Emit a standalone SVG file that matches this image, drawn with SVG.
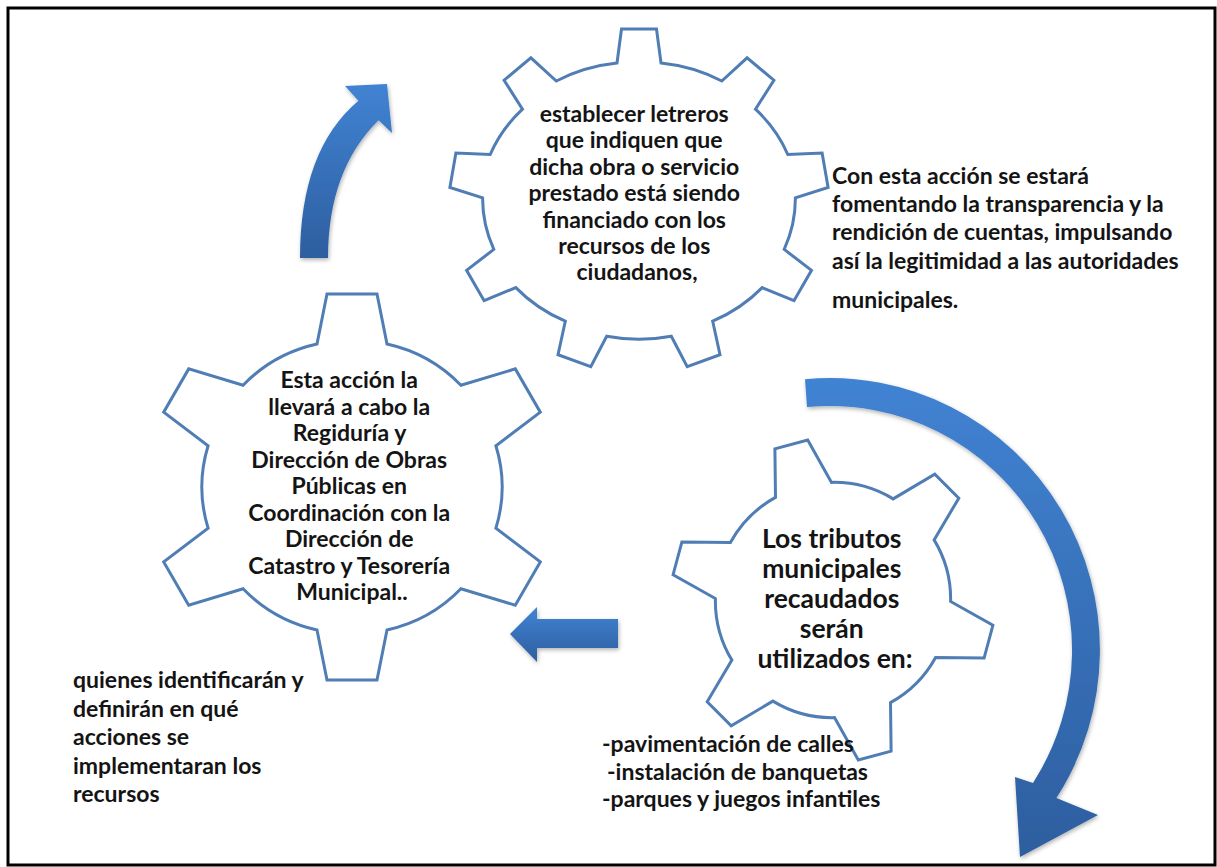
<svg xmlns="http://www.w3.org/2000/svg" width="1217" height="867" viewBox="0 0 1217 867">
<style>
.gear{fill:#fff;stroke:#4f7db4;stroke-width:3;stroke-linejoin:miter}
.t{font-family:Lato,"Open Sans","Liberation Sans",sans-serif;font-weight:bold;fill:#141414;font-size:23px}
.c{text-anchor:middle}
.big{font-size:26.5px}
.arrow{fill:url(#ag);filter:url(#sh)}
</style>
<defs>
<linearGradient id="ag" x1="0" y1="0" x2="0" y2="1">
<stop offset="0" stop-color="#4183d3"/>
<stop offset="1" stop-color="#2d5e9f"/>
</linearGradient>
<filter id="sh" x="-20%" y="-20%" width="140%" height="140%">
<feDropShadow dx="1" dy="2" stdDeviation="2" flood-color="#000" flood-opacity="0.3"/>
</filter>
</defs>
<rect x="8" y="8" width="1207" height="857" fill="#fff" stroke="#000" stroke-width="3"/>

<g id="gear-top">
<path class="gear" d="M617,63 L621.5,29 L656.5,29 L661,63 A155,137 0 0 1 721.8,81 L747.1,57.8 L773.9,80.2 L755.5,109.2 A155,137 0 0 1 787.8,154.5 L822.1,153.1 L828.1,187.5 L795.4,197.9 A155,137 0 0 1 784.2,249.4 L811.5,270.3 L794,300.7 L762.2,287.6 A155,137 0 0 1 712.7,321.2 L720,354.7 L687.2,366.7 L671.3,336.2 A155,137 0 0 1 606.7,336.2 L590.8,366.7 L558,354.7 L565.3,321.2 A155,137 0 0 1 515.8,287.6 L484.1,300.7 L466.6,270.3 L493.8,249.4 A155,137 0 0 1 482.6,197.9 L449.9,187.5 L455.9,153.1 L490.2,154.5 A155,137 0 0 1 522.5,109.2 L504.1,80.2 L530.9,57.8 L556.3,81 A155,137 0 0 1 617,63 Z"/>
<text class="t c" x="637">
<tspan x="637" y="122">establecer letreros</tspan>
<tspan x="637" y="148.4">que indiquen que</tspan>
<tspan x="637" y="174.8">dicha obra o servicio</tspan>
<tspan x="637" y="201.2">prestado está siendo</tspan>
<tspan x="637" y="227.6">financiado con los</tspan>
<tspan x="637" y="254">recursos de los</tspan>
<tspan x="637" y="280.4">ciudadanos,</tspan>
</text>
</g>

<g id="gear-left">
<path class="gear" d="M317,344 L327,294 L377,294 L387,344 A146,143 0 0 1 460.9,385.2 L515.3,368.9 L540.3,412.2 L495.9,445.8 A146,143 0 0 1 495.9,528.2 L540.3,561.9 L515.3,605.2 L460.9,588.8 A146,143 0 0 1 387,630 L377,680 L327,680 L317,630 A146,143 0 0 1 243.1,588.8 L188.7,605.2 L163.7,561.9 L208.1,528.2 A146,143 0 0 1 208.1,445.8 L163.7,412.2 L188.7,368.9 L243.1,385.2 A146,143 0 0 1 317,344 Z"/>
<text class="t c" x="352">
<tspan x="352" y="388">Esta acción la</tspan>
<tspan x="352" y="414.5">llevará a cabo la</tspan>
<tspan x="352" y="441">Regiduría y</tspan>
<tspan x="352" y="467.5">Dirección de Obras</tspan>
<tspan x="352" y="494">Públicas en</tspan>
<tspan x="352" y="520.5">Coordinación con la</tspan>
<tspan x="352" y="547">Dirección de</tspan>
<tspan x="352" y="573.5">Catastro y Tesorería</tspan>
<tspan x="352" y="600">Municipal..</tspan>
</text>
</g>

<g id="gear-right">
<path class="gear" d="M775.5,497.4 L774.9,448.9 L807.7,440.1 L831.5,482.4 A114,114 0 0 1 893.1,498.9 L934.8,474.2 L958.8,498.2 L934.1,539.9 A114,114 0 0 1 950.6,601.5 L992.9,625.3 L984.1,658.1 L935.6,657.5 A114,114 0 0 1 890.5,702.6 L891.1,751.1 L858.3,759.9 L834.5,717.6 A114,114 0 0 1 772.9,701.1 L731.2,725.8 L707.2,701.8 L731.9,660.1 A114,114 0 0 1 715.4,598.5 L673.1,574.7 L681.9,541.9 L730.4,542.5 A114,114 0 0 1 775.5,497.4 Z"/>
<text class="t c big" x="835">
<tspan x="835" y="548">Los tributos</tspan>
<tspan x="835" y="578">municipales</tspan>
<tspan x="835" y="608">recaudados</tspan>
<tspan x="835" y="638">serán</tspan>
<tspan x="835" y="668">utilizados en:</tspan>
</text>
</g>

<g id="text-right">
<text class="t">
<tspan x="832" y="184">Con esta acción se estará</tspan>
<tspan x="832" y="212">fomentando la transparencia y la</tspan>
<tspan x="832" y="240">rendición de cuentas, impulsando</tspan>
<tspan x="832" y="269">así la legitimidad a las autoridades</tspan>
<tspan x="832" y="308">municipales.</tspan>
</text>
</g>

<g id="text-bottom-left">
<text class="t">
<tspan x="73" y="688">quienes identificarán y</tspan>
<tspan x="73" y="716.5">definirán en qué</tspan>
<tspan x="73" y="745">acciones se</tspan>
<tspan x="73" y="773.5">implementaran los</tspan>
<tspan x="73" y="802">recursos</tspan>
</text>
</g>

<g id="text-list">
<text class="t">
<tspan x="602" y="752">-pavimentación de calles</tspan>
<tspan x="607" y="780">-instalación de banquetas</tspan>
<tspan x="602" y="807">-parques y juegos infantiles</tspan>
</text>
</g>

<g id="connectors">
<path class="arrow" d="M300,258 Q300,150 358.4,100.8 L345,86 L387,84 L392,133 L378.6,120.2 Q328,170 328,258 Z"/>
<path class="arrow" d="M805,379.2 A270,272 0 0 1 1056.4,798.1 L1098,815 L1020,857 L1015,777 L1033,782.9 A242,244 0 0 0 807,407.1 Z"/>
<path class="arrow" d="M510,634 L537,607 L537,619 L618,619 L618,648 L537,648 L537,662 Z"/>
</g>
</svg>
